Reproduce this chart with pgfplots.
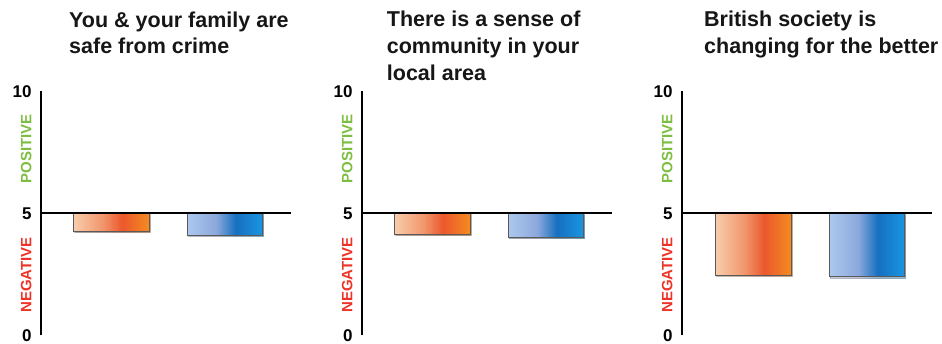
\documentclass[border=0pt]{standalone}
\usepackage{pgfplots}
\pgfplotsset{compat=1.18}
\usetikzlibrary{shadows}
\usepackage{fontspec}
\setmainfont{Liberation Sans}
\definecolor{posgreen}{RGB}{125,190,66}
\definecolor{negred}{RGB}{238,52,40}
\definecolor{titlek}{RGB}{22,22,22}
\definecolor{oL}{RGB}{248,204,170}
\definecolor{oA}{RGB}{241,150,108}
\definecolor{oM}{RGB}{235,88,44}
\definecolor{oR}{RGB}{244,140,32}
\definecolor{bL}{RGB}{172,200,238}
\definecolor{bA}{RGB}{140,168,220}
\definecolor{bM}{RGB}{22,112,192}
\definecolor{bR}{RGB}{26,150,226}
\pgfdeclarehorizontalshading{obar}{100bp}{color(0bp)=(oL); color(25bp)=(oL); color(44bp)=(oA); color(57bp)=(oM); color(75bp)=(oR); color(100bp)=(oR)}
\pgfdeclarehorizontalshading{bbar}{100bp}{color(0bp)=(bL); color(25bp)=(bL); color(44bp)=(bA); color(57bp)=(bM); color(75bp)=(bR); color(100bp)=(bR)}
\pgfplotsset{
  panel/.style={
    anchor=south west, x=1pt, y=24.4pt,
    xmin=0, xmax=250, ymin=-5, ymax=5,
    enlargelimits=false, clip=false,
    axis y line*=left, axis x line*=middle,
    axis line style={line width=1.6pt, black},
    xtick=\empty, ytick={-5,0,5}, yticklabels={0,5,10},
    major tick length=0pt,
    yticklabel style={anchor=east, inner sep=0pt, xshift=-9pt,
      font=\fontsize{17}{17}\selectfont\bfseries, text=black},
    y filter/.expression={y-5},
    axis on top,
  },
  obarstyle/.style={ybar, bar width=75.5pt, bar shift=0pt, draw=black!65, line width=1pt, shade, shading=obar,
    drop shadow={shadow xshift=0.8pt, shadow yshift=-1.3pt, opacity=0.35}},
  bbarstyle/.style={ybar, bar width=75.5pt, bar shift=0pt, draw=black!65, line width=1pt, shade, shading=bbar,
    drop shadow={shadow xshift=0.8pt, shadow yshift=-1.3pt, opacity=0.35}},
}
\newcommand{\sidelabels}{%
  \node[rotate=90, text=posgreen, font=\fontsize{15}{15}\selectfont\bfseries] at (axis cs:-14.5,2.64) {POSITIVE};
  \node[rotate=90, text=negred, font=\fontsize{15}{15}\selectfont\bfseries] at (axis cs:-14.5,-2.53) {NEGATIVE};
}
\begin{document}
\begin{tikzpicture}[x=1pt,y=1pt]
\path[use as bounding box] (0,0) rectangle (942,344);
% Panel 1
\begin{axis}[panel, at={(40.7pt,8.7pt)}]
\addplot[obarstyle] coordinates {(71,4.25)};
\addplot[bbarstyle] coordinates {(184.5,4.11)};
\sidelabels
\end{axis}
% Panel 2
\begin{axis}[panel, at={(361.7pt,8.7pt)}]
\addplot[obarstyle] coordinates {(71,4.14)};
\addplot[bbarstyle] coordinates {(184.5,4.02)};
\sidelabels
\end{axis}
% Panel 3
\begin{axis}[panel, at={(681.7pt,8.7pt)}]
\addplot[obarstyle] coordinates {(72,2.47)};
\addplot[bbarstyle] coordinates {(185.5,2.40)};
\sidelabels
\end{axis}
% Titles
\tikzset{ttl/.style={anchor=base west, inner sep=0pt, text=titlek, font=\fontsize{21.5}{21.5}\selectfont\bfseries}}
\node[ttl] at (69,316.3) {You \& your family are};
\node[ttl] at (69,290) {safe from crime};
\node[ttl] at (386.7,317.3) {There is a sense of};
\node[ttl] at (386.7,290) {community in your};
\node[ttl] at (386.7,263) {local area};
\node[ttl] at (704,317.3) {British society is};
\node[ttl] at (704,290.7) {changing for the better};
\end{tikzpicture}
\end{document}
